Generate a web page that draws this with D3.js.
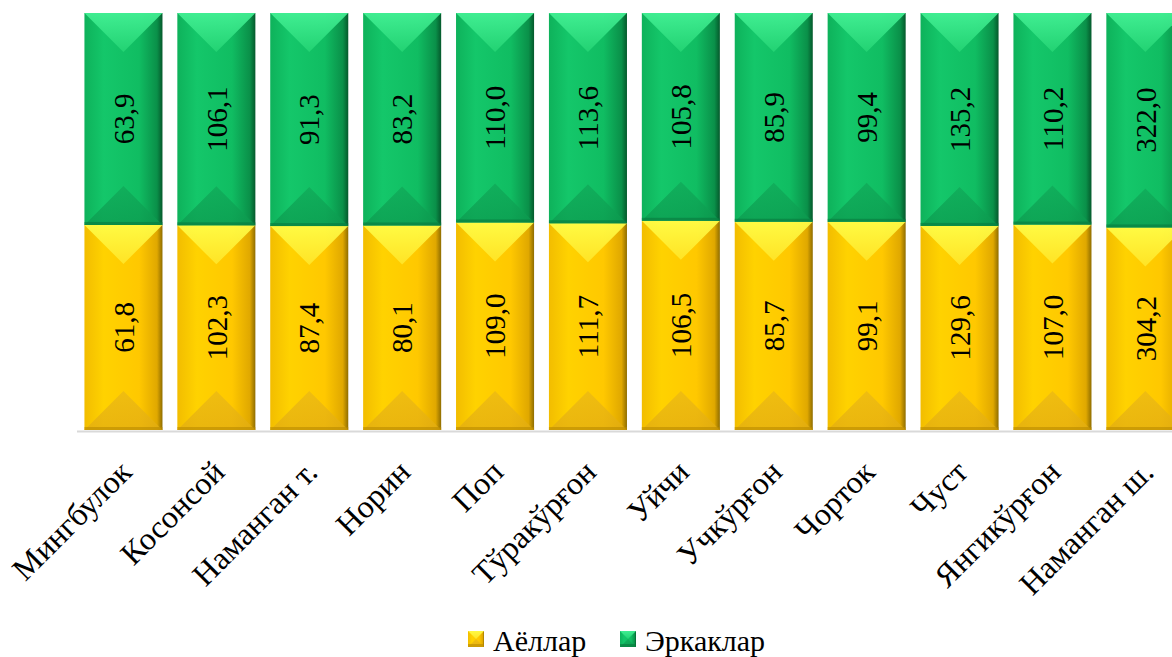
<!DOCTYPE html>
<html>
<head>
<meta charset="utf-8">
<script src="https://cdn.jsdelivr.net/npm/d3@7"></script>
<style>
    body { margin: 0; background: #fff; }
    svg { display: block; font-family: "Liberation Serif", "Times New Roman", serif; }
</style>
</head>
<body>
<div id="chart"></div>
<script>
// data
const districts = ["Мингбулок", "Косонсой", "Наманган т.", "Норин", "Поп", "Тўракўрғон",
    "Уйчи", "Учкўрғон", "Чорток", "Чуст", "Янгикўрғон", "Наманган ш."];
const women = [61.8, 102.3, 87.4, 80.1, 109.0, 111.7, 106.5, 85.7, 99.1, 129.6, 107.0, 304.2];
const men = [63.9, 106.1, 91.3, 83.2, 110.0, 113.6, 105.8, 85.9, 99.4, 135.2, 110.2, 322.0];
const seriesNames = ["Аёллар", "Эркаклар"];

const width = 1172, height = 657;
const margin = { top: 13, left: 77, bottom: 430 };

const fmt = v => d3.format(".1f")(v).replace(".", ",");

const rows = districts.map((d, i) => ({ name: d, w: women[i], m: men[i], total: women[i] + men[i] }));

const svg = d3.select("#chart").append("svg")
    .attr("width", width)
    .attr("height", height);

// bevel look: gradients for each colour
const defs = svg.append("defs");
const palette = {
    y: { side: ["#f2bd00", "#ffd200", "#ffc800", "#e0a800", "#8f6d00"], top: ["#ffff4a", "#ffe62a"], bot: ["#e3ad12", "#eab816"], edge: "#b98a00" },
    g: { side: ["#0eb25b", "#14c76a", "#10bd62", "#0a9049", "#05592c"], top: ["#45f296", "#24d474"], bot: ["#0c9a4f", "#10a858"], edge: "#087a3e" }
};
Object.entries(palette).forEach(([k, p]) => {
    const side = defs.append("linearGradient").attr("id", "side-" + k).attr("x1", 0).attr("x2", 1).attr("y1", 0).attr("y2", 0);
    [0, 0.25, 0.7, 0.93, 1].forEach((o, i) => side.append("stop").attr("offset", o).attr("stop-color", p.side[i]));
    const top = defs.append("linearGradient").attr("id", "top-" + k).attr("x1", 0).attr("x2", 0).attr("y1", 0).attr("y2", 1);
    top.append("stop").attr("offset", 0).attr("stop-color", p.top[0]);
    top.append("stop").attr("offset", 1).attr("stop-color", p.top[1]);
    const bot = defs.append("linearGradient").attr("id", "bot-" + k).attr("x1", 0).attr("x2", 0).attr("y1", 0).attr("y2", 1);
    bot.append("stop").attr("offset", 0).attr("stop-color", p.bot[1]);
    bot.append("stop").attr("offset", 1).attr("stop-color", p.bot[0]);
});

const xScale = d3.scaleBand()
    .domain(districts)
    .range([margin.left, margin.left + 12 * 92.9])
    .paddingInner(0.16)
    .paddingOuter(0.08);

const yScale = d3.scaleLinear()
    .domain([0, 1])
    .range([margin.bottom, margin.top]);

const drawBevel = (g, x, y, w, h, k) => {
    const p = palette[k];
    const d = Math.min(w / 2, h / 2);
    g.append("rect").attr("x", x).attr("y", y).attr("width", w).attr("height", h)
        .attr("fill", `url(#side-${k})`);
    g.append("path")
        .attr("d", `M${x},${y}L${x + w},${y}L${x + w / 2},${y + d}Z`)
        .attr("fill", `url(#top-${k})`).attr("opacity", 0.9);
    g.append("path")
        .attr("d", `M${x},${y + h}L${x + w},${y + h}L${x + w / 2},${y + h - d}Z`)
        .attr("fill", `url(#bot-${k})`).attr("opacity", 0.75);
    g.append("rect").attr("x", x).attr("y", y + h - 3).attr("width", w).attr("height", 3)
        .attr("fill", p.edge).attr("opacity", 0.6);
};

const bars = svg.append("g").attr("class", "bars");
rows.forEach(r => {
    const x = xScale(r.name), w = xScale.bandwidth();
    const share = r.w / r.total;
    const g = bars.append("g");
    drawBevel(g, x, yScale(share), w, yScale(0) - yScale(share), "y");
    drawBevel(g, x, yScale(1), w, yScale(share) - yScale(1), "g");
});

// axis line
svg.append("line")
    .attr("x1", margin.left).attr("x2", width)
    .attr("y1", margin.bottom + 1.5).attr("y2", margin.bottom + 1.5)
    .attr("stroke", "#d9d9d9").attr("stroke-width", 2);

// value labels
const labels = svg.append("g")
    .attr("font-size", 29)
    .attr("fill", "#000")
    .attr("text-anchor", "middle");
rows.forEach(r => {
    const cx = xScale(r.name) + xScale.bandwidth() / 2;
    const share = r.w / r.total;
    const yw = (yScale(0) + yScale(share)) / 2;
    const ym = (yScale(share) + yScale(1)) / 2;
    [[yw, r.w], [ym, r.m]].forEach(([cy, v]) => {
        labels.append("text")
            .attr("transform", `translate(${cx},${cy}) rotate(-90)`)
            .attr("dy", "0.35em")
            .text(fmt(v));
    });
});

// category labels
svg.append("g")
    .attr("font-size", 32)
    .attr("text-anchor", "end")
    .selectAll("text")
    .data(districts)
    .join("text")
    .attr("transform", d => `translate(${xScale(d) + xScale.bandwidth() / 2 + 10},${margin.bottom + 44}) rotate(-45)`)
    .text(d => d);

// legend
const legend = svg.append("g").attr("font-size", 30);
const legendItems = [{ k: "y", x: 468, name: seriesNames[0] }, { k: "g", x: 620, name: seriesNames[1] }];
legendItems.forEach(it => {
    const g = legend.append("g");
    drawBevel(g, it.x, 631, 16, 16, it.k);
    g.append("text").attr("x", it.x + 25).attr("y", 651).text(it.name);
});
</script>
</body>
</html>
